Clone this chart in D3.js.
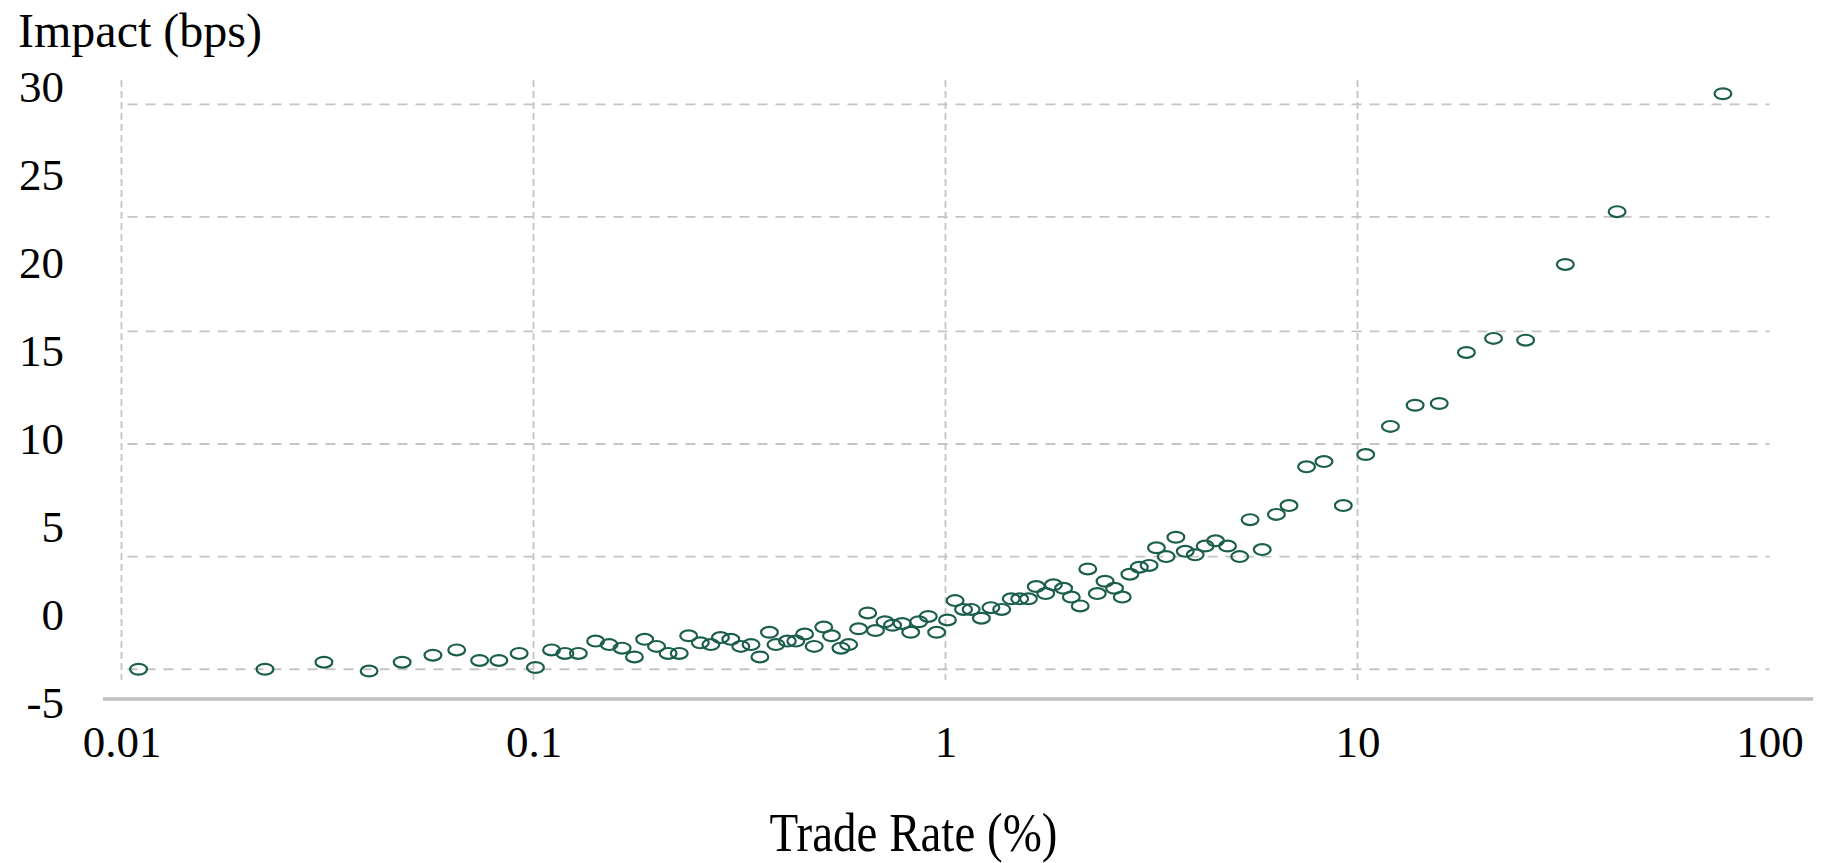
<!DOCTYPE html>
<html>
<head>
<meta charset="utf-8">
<script src="https://cdn.jsdelivr.net/npm/d3@7"></script>
<style>
  html, body { margin: 0; padding: 0; background: #fff; }
  svg text { font-family: "Liberation Serif", "Times New Roman", serif; fill: #000; }
</style>
</head>
<body>
<svg id="chart"></svg>
<script>
// trade rate (%) and impact (bps)
const tradeRate = [
  0.011, 0.0223, 0.031, 0.0399, 0.048, 0.057, 0.0651, 0.074, 0.0824, 0.0923,
  0.1011, 0.1106, 0.1192, 0.1285, 0.1415, 0.1526, 0.1641, 0.1758, 0.1861, 0.1989,
  0.2122, 0.2258, 0.238, 0.254, 0.2695, 0.2843, 0.3012, 0.3185, 0.3373, 0.3544,
  0.3738, 0.3877, 0.4133, 0.4331, 0.4551, 0.4801, 0.5064, 0.5287, 0.5575, 0.5821,
  0.6152, 0.6476, 0.6761, 0.713, 0.7439, 0.7847, 0.8232, 0.861, 0.9083, 0.9517,
  1.011, 1.055, 1.106, 1.154, 1.222, 1.289, 1.369, 1.444, 1.514, 1.59,
  1.66, 1.751, 1.828, 1.935, 2.02, 2.123, 2.215, 2.336, 2.439, 2.572,
  2.685, 2.802, 2.955, 3.12, 3.251, 3.433, 3.624, 3.819, 4.037, 4.269,
  4.524, 4.837, 5.177, 5.487, 5.871, 6.357, 6.819, 7.522, 8.29, 9.237,
  10.47, 12.02, 13.8, 15.79, 18.38, 21.39, 25.59, 31.95, 42.67, 77.08
];
const impact = [
  -3.1, -3.1, -2.7, -3.2, -2.7, -2.3, -2.0, -2.6, -2.6, -2.2,
  -3.0, -2.0, -2.2, -2.2, -1.5, -1.7, -1.9, -2.4, -1.4, -1.8,
  -2.2, -2.2, -1.2, -1.6, -1.7, -1.3, -1.4, -1.8, -1.7, -2.4,
  -1.0, -1.7, -1.5, -1.5, -1.1, -1.8, -0.7, -1.2, -1.9, -1.7,
  -0.8, 0.1, -0.9, -0.4, -0.6, -0.5, -1.0, -0.4, -0.1, -1.0,
  -0.3, 0.8, 0.3, 0.3, -0.2, 0.4, 0.3, 0.9, 0.9, 0.9,
  1.6, 1.2, 1.7, 1.5, 1.0, 0.5, 2.6, 1.2, 1.9, 1.5,
  1.0, 2.3, 2.7, 2.8, 3.8, 3.3, 4.4, 3.6, 3.4, 3.9,
  4.2, 3.9, 3.3, 5.4, 3.7, 5.7, 6.2, 8.4, 8.7, 6.2,
  9.1, 10.7, 11.9, 12.0, 14.9, 15.7, 15.6, 19.9, 22.9, 29.6
];
const xTicks = [0.01, 0.1, 1, 10, 100];
const xTickLabels = ["0.01", "0.1", "1", "10", "100"];
const yTicks = [-5, 0, 5, 10, 15, 20, 25, 30];
// the dashed guide lines do not sit on the labelled values
const gridValues = [-3.1, 3.3, 9.7, 16.1, 22.6, 29.0];

const width = 1827, height = 863;
const svg = d3.select("#chart").attr("width", width).attr("height", height);

const x = d3.scaleLog().domain([0.01, 100]).range([121.5, 1769.5]);
const y = d3.scaleLinear().domain([-5, 30]).range([702.7, 86.7]);

const gridColor = "#c4c4c4";
const fontFamily = '"Liberation Serif", "Times New Roman", serif';

// horizontal guides
svg.append("g")
  .selectAll("line")
  .data(gridValues)
  .join("line")
  .attr("x1", x(0.01) + 6)
  .attr("x2", x(100))
  .attr("y1", d => y(d))
  .attr("y2", d => y(d))
  .attr("stroke", gridColor)
  .attr("stroke-width", 1.8)
  .attr("stroke-dasharray", "10,8");

// vertical guides
svg.append("g")
  .selectAll("line")
  .data(xTicks.slice(0, 4))
  .join("line")
  .attr("x1", d => x(d))
  .attr("x2", d => x(d))
  .attr("y1", 80)
  .attr("y2", 680)
  .attr("stroke", gridColor)
  .attr("stroke-width", 1.8)
  .attr("stroke-dasharray", "7,4");

// x axis line
svg.append("line")
  .attr("x1", 103).attr("x2", 1813)
  .attr("y1", 699).attr("y2", 699)
  .attr("stroke", "#bfbfbf")
  .attr("stroke-width", 3.5);

// y tick labels
const yAxis = svg.append("g")
  .attr("transform", "translate(64,0)")
  .call(d3.axisLeft(y).tickValues(yTicks).tickSize(0).tickPadding(0).tickFormat(d => String(d)));
yAxis.select(".domain").remove();
yAxis.selectAll("text")
  .attr("dy", null)
  .attr("y", 15)
  .style("font-size", "45px")
  .style("font-family", fontFamily)
  .attr("fill", "#000");

// x tick labels
const xAxis = svg.append("g")
  .attr("transform", "translate(0,757)")
  .call(d3.axisBottom(x).tickValues(xTicks).tickSize(0).tickPadding(0)
    .tickFormat((d, i) => xTickLabels[i]));
xAxis.select(".domain").remove();
xAxis.selectAll("text")
  .attr("dy", null)
  .attr("y", 0)
  .style("font-size", "45px")
  .style("font-family", fontFamily)
  .attr("fill", "#000");

// points
const points = tradeRate.map((d, i) => ({ rate: d, impact: impact[i] }));
svg.append("g")
  .selectAll("ellipse")
  .data(points)
  .join("ellipse")
  .attr("cx", d => x(d.rate))
  .attr("cy", d => y(d.impact))
  .attr("rx", 8.4)
  .attr("ry", 5.4)
  .attr("fill", "none")
  .attr("stroke", "#1b5e4c")
  .attr("stroke-width", 2.2);

// titles
svg.append("text")
  .attr("x", 18).attr("y", 47)
  .style("font-size", "48px")
  .text("Impact (bps)");

svg.append("text")
  .attr("transform", `translate(${width / 2},851) scale(1,1.15)`)
  .attr("text-anchor", "middle")
  .style("font-size", "47px")
  .text("Trade Rate (%)");
</script>
</body>
</html>
